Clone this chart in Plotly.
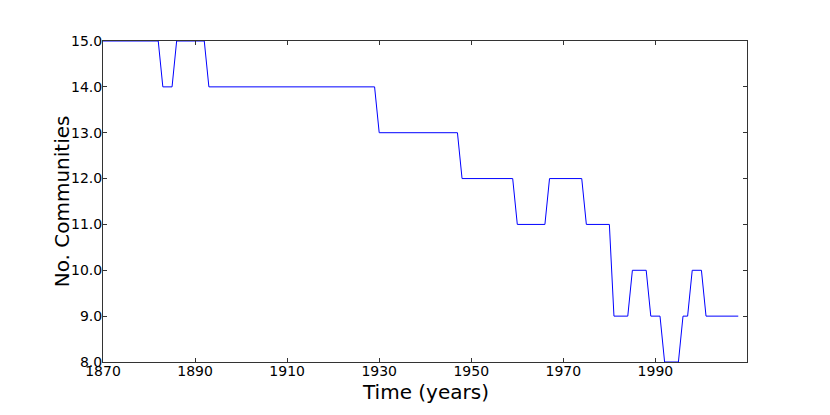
import plotly.graph_objects as go

# breakpoints of the community count series (year, number of communities)
years = [1870, 1882, 1883, 1885, 1886, 1892, 1893, 1929, 1930, 1947, 1948,
         1959, 1960, 1966, 1967, 1974, 1975, 1980, 1981, 1984, 1985, 1988,
         1989, 1991, 1992, 1995, 1996, 1997, 1998, 2000, 2001, 2008]
communities = [15, 15, 14, 14, 15, 15, 14, 14, 13, 13, 12,
               12, 11, 11, 12, 12, 11, 11, 9, 9, 10, 10,
               9, 9, 8, 8, 9, 9, 10, 10, 9, 9]

x_ticks = [1870, 1890, 1910, 1930, 1950, 1970, 1990]
y_ticks = [8, 9, 10, 11, 12, 13, 14, 15]

fig = go.Figure()
fig.add_trace(go.Scatter(
    x=years, y=communities,
    mode="lines",
    line=dict(color="#0000ff", width=1),
    showlegend=False,
    hoverinfo="x+y",
))

axis_style = dict(
    showgrid=False, zeroline=False,
    showline=True, linecolor="#333333", linewidth=1,
    mirror="ticks", ticks="inside", ticklen=4, tickcolor="#333333",
    tickfont=dict(family="DejaVu Sans", size=14, color="black"),
)

# page body has an 8px margin, so margins are offset by that
fig.update_layout(
    width=830, height=415,
    paper_bgcolor="white", plot_bgcolor="white",
    margin=dict(l=95, r=91, t=33, b=61),
    font=dict(family="DejaVu Sans", color="black"),
    xaxis=dict(range=[1870, 2009.9], tickvals=x_ticks,
               ticklabelstandoff=-4, **axis_style),
    yaxis=dict(range=[8, 15], tickvals=y_ticks, tickformat=".1f",
               ticklabelstandoff=-3, **axis_style),
)

# axis titles placed like the original
fig.add_annotation(text="Time (years)", xref="paper", yref="paper",
                   x=0.5, y=-0.092, xanchor="center", yanchor="middle",
                   showarrow=False, font=dict(size=20))
fig.add_annotation(text="No. Communities", xref="paper", yref="paper",
                   x=-0.064, y=0.5, xanchor="center", yanchor="middle",
                   textangle=-90, showarrow=False, font=dict(size=20))

fig.write_html("out.html")
